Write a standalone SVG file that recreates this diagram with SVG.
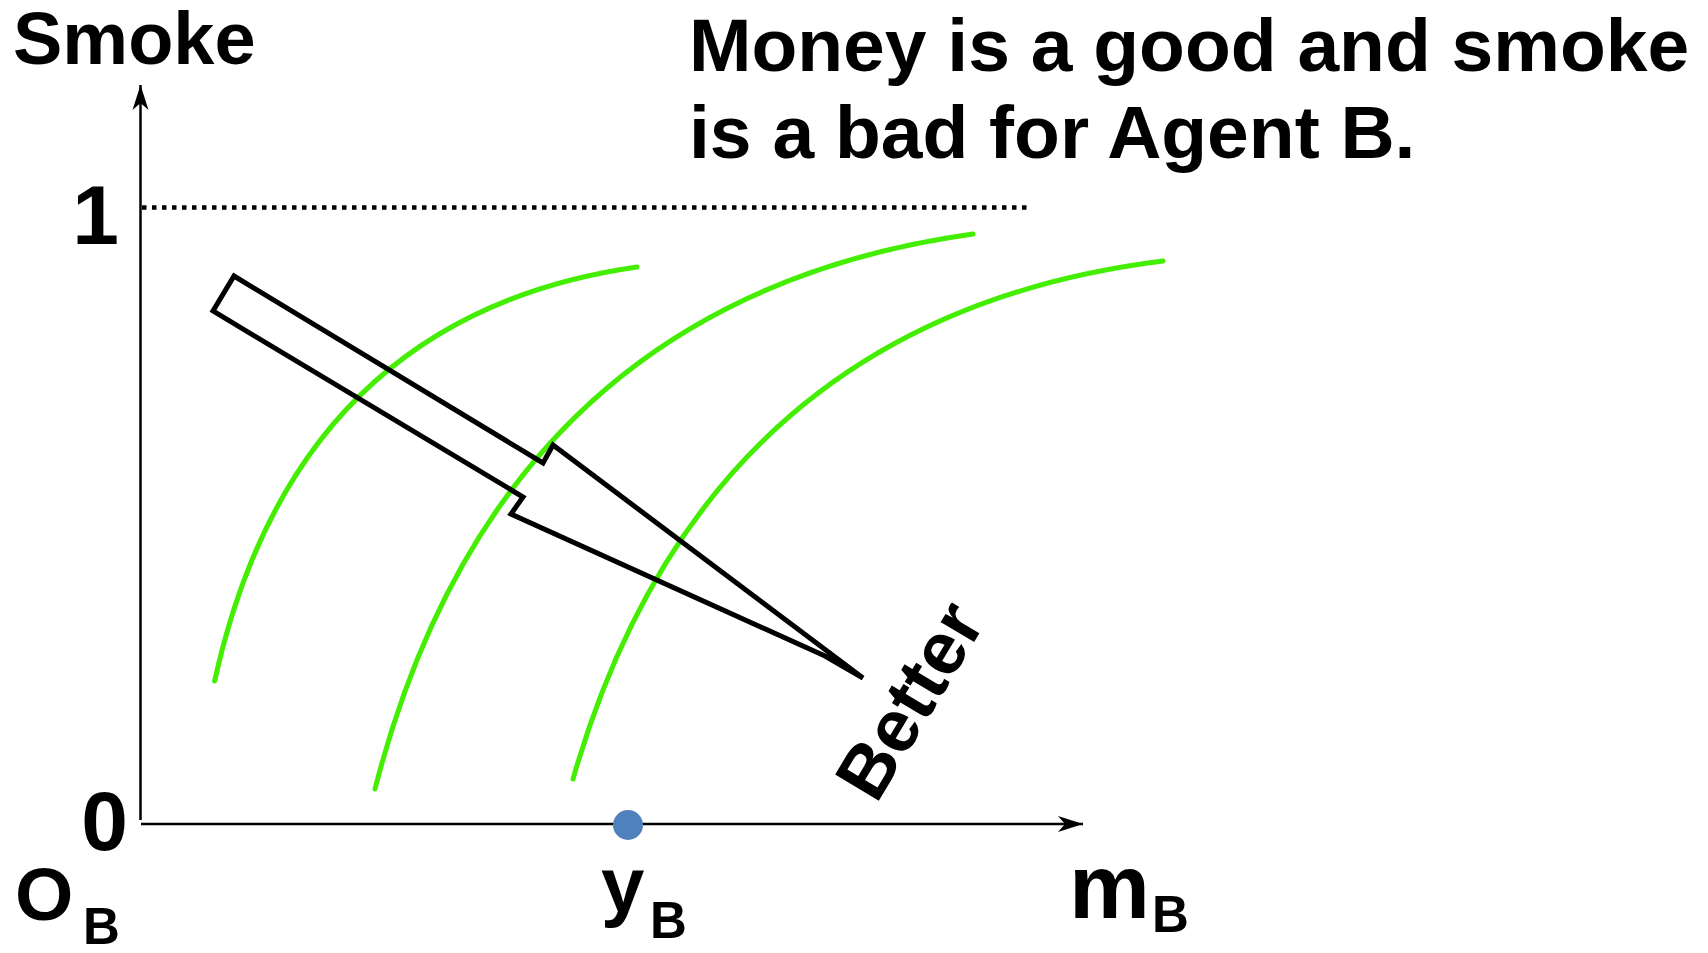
<svg xmlns="http://www.w3.org/2000/svg" width="1708" height="953" viewBox="0 0 1708 953">
  <style>
    text { font-family: "Liberation Sans", Arial, sans-serif; font-weight: bold; fill: #000; }
    .axis { stroke: #000; stroke-width: 2.5; fill: none; }
    .curve { stroke: #44ee00; stroke-width: 5; fill: none; stroke-linecap: round; }
  </style>
  <defs>
    <marker id="arrow" markerUnits="userSpaceOnUse" markerWidth="30" markerHeight="20" viewBox="-26 -10 28 20" refX="0" refY="0" orient="auto">
      <path d="M0,0 L-25,-8 L-18,0 L-25,8 Z" fill="#000"/>
    </marker>
  </defs>
  <rect width="1708" height="953" fill="#fff"/>

  <g id="title">
    <text x="689" y="71" font-size="75">Money is a good and smoke</text>
    <text x="689" y="158" font-size="75">is a bad for Agent B.</text>
  </g>

  <g id="axes">
    <line class="axis" x1="140.5" y1="820" x2="140.5" y2="85" marker-end="url(#arrow)"/>
    <line class="axis" x1="141" y1="824" x2="1083" y2="824" marker-end="url(#arrow)"/>
    <line x1="142" y1="207.5" x2="1032" y2="207.5" stroke="#000" stroke-width="4.5" stroke-dasharray="4.5 5.5"/>
  </g>

  <g id="axis-labels">
    <text x="13" y="64" font-size="74">Smoke</text>
    <text x="119" y="244" font-size="84" text-anchor="end">1</text>
    <text x="128" y="850" font-size="84" text-anchor="end">0</text>
    <text x="15" y="920" font-size="75">O</text>
    <text x="83" y="944" font-size="51">B</text>
    <text x="601" y="912" font-size="78">y</text>
    <text x="650" y="938" font-size="51">B</text>
    <text x="1069" y="918" font-size="91">m</text>
    <text x="1152" y="932" font-size="51">B</text>
  </g>

  <g id="indifference-curves">
    <path class="curve" d="M214.6,681 Q295,316 637,267"/>
    <path class="curve" d="M375,789 Q500,300 973,234"/>
    <path class="curve" d="M573,779 Q705,318 1163,261"/>
  </g>

  <g id="endowment">
    <circle cx="628" cy="825" r="15" fill="#4f81bd"/>
  </g>

  <g id="better-arrow">
    <polygon points="234,276 543,463 553,445 863,678 825,656 511,514 523,497 213,311" fill="none" stroke="#000" stroke-width="5" stroke-linejoin="miter" stroke-miterlimit="10"/>
    <text transform="translate(909,700) rotate(-59)" font-size="74" text-anchor="middle" y="26">Better</text>
  </g>
</svg>
